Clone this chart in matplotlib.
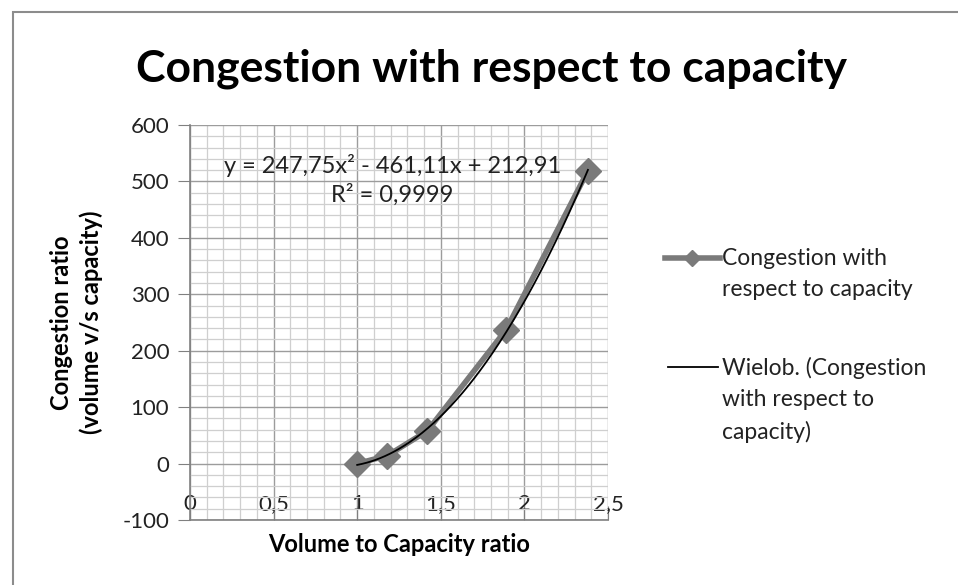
import numpy as np
import matplotlib.pyplot as plt
from matplotlib.patches import Rectangle
from matplotlib.lines import Line2D
from matplotlib.ticker import MultipleLocator, FuncFormatter

plt.rcParams['font.family'] = ['Lato', 'DejaVu Sans']
plt.rcParams['axes.unicode_minus'] = False

# data
vc_ratio = [1.0, 1.18, 1.42, 1.89, 2.38]
congestion = [0, 14, 58, 237, 519]

series_label = 'Congestion with\nrespect to capacity'
trend_label = 'Wielob. (Congestion\nwith respect to\ncapacity)'

# quadratic trendline (Excel "Wielob." = polynomial)
coef = np.polyfit(vc_ratio, congestion, 2)
xs = np.linspace(min(vc_ratio), max(vc_ratio), 200)
ys = np.polyval(coef, xs)

W, H = 958, 585
fig = plt.figure(figsize=(W / 100, H / 100), dpi=100)
ax = fig.add_axes([190 / W, 1 - 520 / H, 418 / W, 395 / H])

# chart border
fig.patches.append(Rectangle((13 / W, -0.05), 1.1, 1 - 12 / H + 0.05,
                             transform=fig.transFigure, fill=False,
                             edgecolor='#8c8c8c', linewidth=1.5))

ax.set_xlim(0, 2.5)
ax.set_ylim(-100, 600)
ax.xaxis.set_major_locator(MultipleLocator(0.5))
ax.xaxis.set_minor_locator(MultipleLocator(0.1))
ax.yaxis.set_major_locator(MultipleLocator(100))
ax.yaxis.set_minor_locator(MultipleLocator(20))
ax.grid(which='minor', color='#cfcfcf', linewidth=0.9)
ax.grid(which='major', color='#9c9c9c', linewidth=1.0)
ax.set_axisbelow(True)

comma = FuncFormatter(lambda v, p: ('%g' % v).replace('.', ','))
ax.xaxis.set_major_formatter(comma)
ax.tick_params(axis='x', which='major', direction='in', length=10, pad=-19,
               labelsize=16, color='#808080', labelcolor='#222222')
ax.tick_params(axis='y', which='major', direction='out', length=9, pad=6,
               labelsize=16, color='#808080', labelcolor='#222222')
ax.tick_params(which='minor', length=0)
for s in ['top', 'right']:
    ax.spines[s].set_visible(False)
for s in ['left', 'bottom']:
    ax.spines[s].set_color('#808080')
    ax.spines[s].set_linewidth(1.2)

ax.plot(vc_ratio, congestion, color='#7a7a7a', linewidth=4, marker='D',
        markersize=13, zorder=3)
ax.plot(xs, ys, color='black', linewidth=1.3, zorder=4)

ax.text(1.21, 528, 'y = 247,75x² - 461,11x + 212,91', ha='center', va='center',
        fontsize=17, color='#222222')
ax.text(1.21, 476, 'R² = 0,9999', ha='center', va='center', fontsize=17,
        color='#222222')

ax.set_xlabel('Volume to Capacity ratio', fontsize=17, fontweight='bold', labelpad=6)
ax.set_ylabel('Congestion ratio\n(volume v/s capacity)', fontsize=17,
              fontweight='bold', labelpad=14, linespacing=1.3)
fig.suptitle('Congestion with respect to capacity', fontsize=32, fontweight='bold',
             x=492 / W, y=1 - 69 / H, va='center')

# legend drawn by hand so the key sits at the first text line, as in Excel
fig.add_artist(Line2D([665 / W, 720 / W], [1 - 258 / H] * 2, color='#7a7a7a',
                      linewidth=4, transform=fig.transFigure))
fig.add_artist(Line2D([692 / W], [1 - 258 / H], color='#7a7a7a', marker='D',
                      markersize=8, transform=fig.transFigure))
fig.text(722 / W, 1 - 248 / H, series_label, fontsize=16.5, va='top',
         linespacing=1.6, color='#222222', transform=fig.transFigure)
fig.add_artist(Line2D([668 / W, 718 / W], [1 - 367 / H] * 2, color='black',
                      linewidth=1.3, transform=fig.transFigure))
fig.text(722 / W, 1 - 357 / H, trend_label, fontsize=16.5, va='top',
         linespacing=1.6, color='#222222', transform=fig.transFigure)

fig.savefig('out.png', dpi=100)
